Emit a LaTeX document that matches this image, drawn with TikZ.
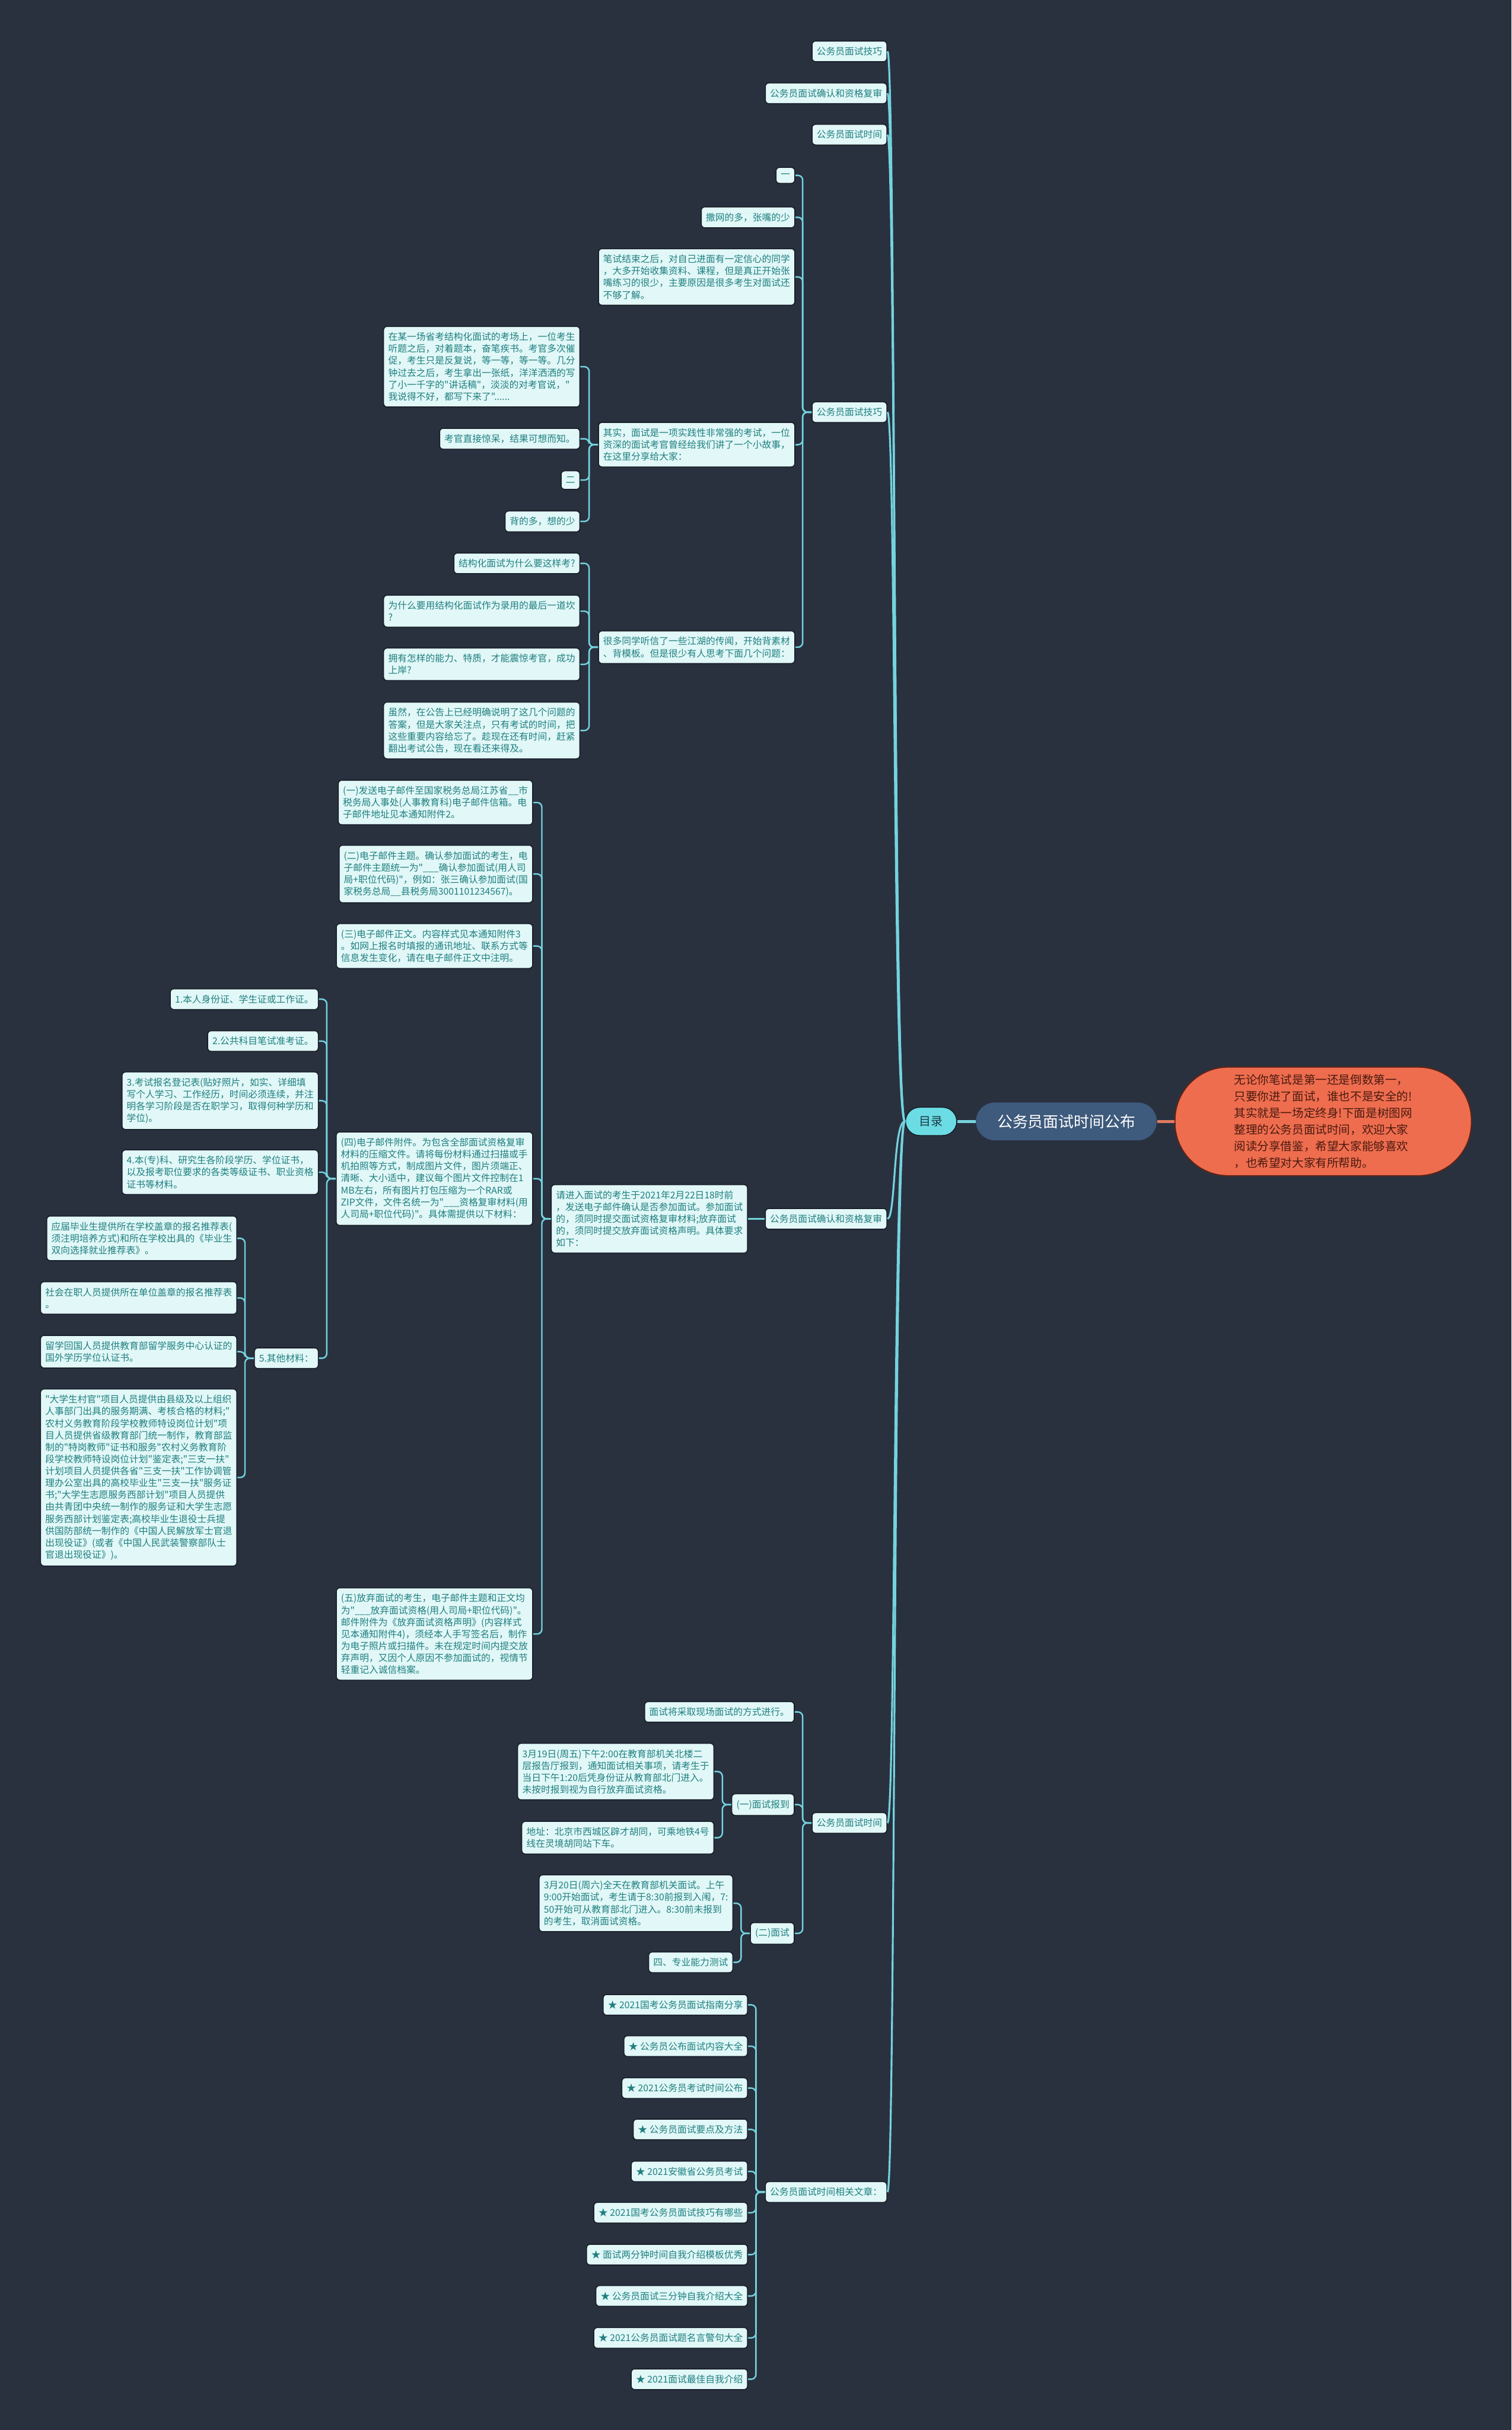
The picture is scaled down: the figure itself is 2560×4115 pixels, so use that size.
\documentclass[tikz,border=0pt]{standalone}
\usepackage{fontspec}
\newfontfamily\cjk{Noto Sans CJK SC}[Ligatures=TeXOff]
\usetikzlibrary{positioning}
\definecolor{bgnavy}{HTML}{29313F}
\definecolor{leaffill}{HTML}{E2F7F7}
\definecolor{leafedge}{HTML}{1A202A}
\definecolor{leaftext}{HTML}{1E7F80}
\definecolor{linkcyan}{HTML}{74D3DE}
\definecolor{rootblue}{HTML}{3E5A7C}
\definecolor{tocfill}{HTML}{6BDCE4}
\definecolor{toctext}{HTML}{1B3A44}
\definecolor{introfill}{HTML}{EE6D4E}
\definecolor{introedge}{HTML}{5E2418}
\definecolor{introtext}{HTML}{4A1A10}
\definecolor{introline}{HTML}{E07A5F}

\begin{document}
\begin{tikzpicture}[
    x=0.01cm,y=-0.01cm,
    leaf/.style={draw=leafedge,fill=leaffill,text=leaftext,rounded corners=0.06cm,
      line width=0.5pt,anchor=east,align=left,inner xsep=0.08cm,inner ysep=2.9pt,
      font=\cjk\fontsize{4.5pt}{5.75pt}\selectfont},
    link/.style={draw=linkcyan,line width=0.7pt,rounded corners=0.08cm},
    trunk/.style={draw=linkcyan,line width=0.9pt},
    rootnode/.style={fill=rootblue,text=white,rounded corners=0.32cm,
      minimum width=3.06cm,minimum height=0.64cm,
      font=\cjk\fontsize{7.4pt}{9pt}\selectfont},
    tocnode/.style={fill=tocfill,text=toctext,draw=leafedge,line width=0.5pt,
      rounded corners=0.24cm,minimum width=0.87cm,minimum height=0.48cm,
      font=\cjk\fontsize{5.7pt}{7pt}\selectfont},
    intronode/.style={fill=introfill,draw=introedge,text=introtext,line width=0.6pt,
      rounded corners=0.9cm,minimum width=5.02cm,minimum height=1.84cm,align=left,
      font=\cjk\fontsize{5.6pt}{8pt}\selectfont}
]
\fill[bgnavy] (0,0) rectangle (2560,4115);
\useasboundingbox (0,0) rectangle (2560,4115);

\node[rootnode] (root) at (1806,1899) {公务员面试时间公布};
\node[tocnode] (toc) at (1577,1899) {目录};
\node[intronode] (intro) at (2241,1899)
  {无论你笔试是第一还是倒数第一，\\只要你进了面试，谁也不是安全的!\\其实就是一场定终身!下面是树图网\\整理的公务员面试时间，欢迎大家\\阅读分享借鉴，希望大家能够喜欢\\，也希望对大家有所帮助。};
\draw[trunk,line width=1.4pt] (toc.east) -- (root.west);
\draw[introline,line width=1.4pt] (root.east) -- (intro.west);

\node[leaf] (t1) at (1503,87) {公务员面试技巧};
\node[leaf] (t2) at (1503,158) {公务员面试确认和资格复审};
\node[leaf] (t3) at (1503,228) {公务员面试时间};
\node[leaf] (t4) at (1503,698) {公务员面试技巧};
\node[leaf] (t5) at (1503,2064) {公务员面试确认和资格复审};
\node[leaf] (t6) at (1503,3087) {公务员面试时间};
\node[leaf] (t7) at (1503,3712) {公务员面试时间相关文章：};

\draw[trunk] (toc.west) .. controls +(-20,0) and +(14,0) .. (t1.east);
\draw[trunk] (toc.west) .. controls +(-20,0) and +(14,0) .. (t2.east);
\draw[trunk] (toc.west) .. controls +(-20,0) and +(14,0) .. (t3.east);
\draw[trunk] (toc.west) .. controls +(-20,0) and +(14,0) .. (t4.east);
\draw[trunk] (toc.west) .. controls +(-20,0) and +(14,0) .. (t5.east);
\draw[trunk] (toc.west) .. controls +(-20,0) and +(14,0) .. (t6.east);
\draw[trunk] (toc.west) .. controls +(-20,0) and +(14,0) .. (t7.east);

\node[leaf] (a1) at (1347,297) {一};
\node[leaf] (a2) at (1347,368) {撒网的多，张嘴的少};
\node[leaf] (a3) at (1347,469)
  {笔试结束之后，对自己进面有一定信心的同学\\，大多开始收集资料、课程，但是真正开始张\\嘴练习的很少，主要原因是很多考生对面试还\\不够了解。};
\node[leaf] (a4) at (1347,753)
  {其实，面试是一项实践性非常强的考试，一位\\资深的面试考官曾经给我们讲了一个小故事，\\在这里分享给大家：};
\node[leaf] (a5) at (1347,1096)
  {很多同学听信了一些江湖的传闻，开始背素材\\、背模板。但是很少有人思考下面几个问题：};
\draw[link] (t4.west) -- ++(-15,0) |- (a1.east);
\draw[link] (t4.west) -- ++(-15,0) |- (a2.east);
\draw[link] (t4.west) -- ++(-15,0) |- (a3.east);
\draw[link] (t4.west) -- ++(-15,0) |- (a4.east);
\draw[link] (t4.west) -- ++(-15,0) |- (a5.east);

\node[leaf] (b1) at (983,621)
  {在某一场省考结构化面试的考场上，一位考生\\听题之后，对着题本，奋笔疾书。考官多次催\\促，考生只是反复说，等一等，等一等。几分\\钟过去之后，考生拿出一张纸，洋洋洒洒的写\\了小一千字的"讲话稿"，淡淡的对考官说，"\\我说得不好，都写下来了"......};
\node[leaf] (b2) at (983,743) {考官直接惊呆，结果可想而知。};
\node[leaf] (b3) at (983,813) {二};
\node[leaf] (b4) at (983,883) {背的多，想的少};
\draw[link] (a4.west) -- ++(-15,0) |- (b1.east);
\draw[link] (a4.west) -- ++(-15,0) |- (b2.east);
\draw[link] (a4.west) -- ++(-15,0) |- (b3.east);
\draw[link] (a4.west) -- ++(-15,0) |- (b4.east);

\node[leaf] (c1) at (983,954) {结构化面试为什么要这样考?};
\node[leaf] (c2) at (983,1035) {为什么要用结构化面试作为录用的最后一道坎\\?};
\node[leaf] (c3) at (983,1125) {拥有怎样的能力、特质，才能震惊考官，成功\\上岸?};
\node[leaf] (c4) at (983,1237)
  {虽然，在公告上已经明确说明了这几个问题的\\答案，但是大家关注点，只有考试的时间，把\\这些重要内容给忘了。趁现在还有时间，赶紧\\翻出考试公告，现在看还来得及。};
\draw[link] (a5.west) -- ++(-15,0) |- (c1.east);
\draw[link] (a5.west) -- ++(-15,0) |- (c2.east);
\draw[link] (a5.west) -- ++(-15,0) |- (c3.east);
\draw[link] (a5.west) -- ++(-15,0) |- (c4.east);

\node[leaf] (d0) at (1267,2064)
  {请进入面试的考生于2021年2月22日18时前\\，发送电子邮件确认是否参加面试。参加面试\\的，须同时提交面试资格复审材料;放弃面试\\的，须同时提交放弃面试资格声明。具体要求\\如下：};
\draw[link] (t5.west) -- (d0.east);

\node[leaf] (e1) at (903,1359)
  {(一)发送电子邮件至国家税务总局江苏省\_\_市\\税务局人事处(人事教育科)电子邮件信箱。电\\子邮件地址见本通知附件2。};
\node[leaf] (e2) at (903,1480)
  {(二)电子邮件主题。确认参加面试的考生，电\\子邮件主题统一为"\_\_\_确认参加面试(用人司\\局+职位代码)"，例如：张三确认参加面试(国\\家税务总局\_\_县税务局3001101234567)。};
\node[leaf] (e3) at (903,1602)
  {(三)电子邮件正文。内容样式见本通知附件3\\。如网上报名时填报的通讯地址、联系方式等\\信息发生变化，请在电子邮件正文中注明。};
\node[leaf] (e4) at (903,1996)
  {(四)电子邮件附件。为包含全部面试资格复审\\材料的压缩文件。请将每份材料通过扫描或手\\机拍照等方式，制成图片文件，图片须端正、\\清晰、大小适中，建议每个图片文件控制在1\\MB左右，所有图片打包压缩为一个RAR或\\ZIP文件，文件名统一为"\_\_\_资格复审材料(用\\人司局+职位代码)"。具体需提供以下材料：};
\node[leaf] (e5) at (903,2767)
  {(五)放弃面试的考生，电子邮件主题和正文均\\为"\_\_\_放弃面试资格(用人司局+职位代码)"。\\邮件附件为《放弃面试资格声明》(内容样式\\见本通知附件4)，须经本人手写签名后，制作\\为电子照片或扫描件。未在规定时间内提交放\\弃声明，又因个人原因不参加面试的，视情节\\轻重记入诚信档案。};
\draw[link] (d0.west) -- ++(-15,0) |- (e1.east);
\draw[link] (d0.west) -- ++(-15,0) |- (e2.east);
\draw[link] (d0.west) -- ++(-15,0) |- (e3.east);
\draw[link] (d0.west) -- ++(-15,0) |- (e4.east);
\draw[link] (d0.west) -- ++(-15,0) |- (e5.east);

\node[leaf] (f1) at (540,1692) {1.本人身份证、学生证或工作证。};
\node[leaf] (f2) at (540,1763) {2.公共科目笔试准考证。};
\node[leaf] (f3) at (540,1864)
  {3.考试报名登记表(贴好照片，如实、详细填\\写个人学习、工作经历，时间必须连续，并注\\明各学习阶段是否在职学习，取得何种学历和\\学位)。};
\node[leaf] (f4) at (540,1985)
  {4.本(专)科、研究生各阶段学历、学位证书，\\以及报考职位要求的各类等级证书、职业资格\\证书等材料。};
\node[leaf] (f5) at (540,2300) {5.其他材料：};
\draw[link] (e4.west) -- ++(-15,0) |- (f1.east);
\draw[link] (e4.west) -- ++(-15,0) |- (f2.east);
\draw[link] (e4.west) -- ++(-15,0) |- (f3.east);
\draw[link] (e4.west) -- ++(-15,0) |- (f4.east);
\draw[link] (e4.west) -- ++(-15,0) |- (f5.east);

\node[leaf] (g1) at (402,2097)
  {应届毕业生提供所在学校盖章的报名推荐表(\\须注明培养方式)和所在学校出具的《毕业生\\双向选择就业推荐表》。};
\node[leaf] (g2) at (402,2198) {社会在职人员提供所在单位盖章的报名推荐表\\。};
\node[leaf] (g3) at (402,2289) {留学回国人员提供教育部留学服务中心认证的\\国外学历学位认证书。};
\node[leaf] (g4) at (402,2502)
  {"大学生村官"项目人员提供由县级及以上组织\\人事部门出具的服务期满、考核合格的材料;"\\农村义务教育阶段学校教师特设岗位计划"项\\目人员提供省级教育部门统一制作，教育部监\\制的"特岗教师"证书和服务"农村义务教育阶\\段学校教师特设岗位计划"鉴定表;"三支一扶"\\计划项目人员提供各省"三支一扶"工作协调管\\理办公室出具的高校毕业生"三支一扶"服务证\\书;"大学生志愿服务西部计划"项目人员提供\\由共青团中央统一制作的服务证和大学生志愿\\服务西部计划鉴定表;高校毕业生退役士兵提\\供国防部统一制作的《中国人民解放军士官退\\出现役证》(或者《中国人民武装警察部队士\\官退出现役证》)。};
\draw[link] (f5.west) -- ++(-15,0) |- (g1.east);
\draw[link] (f5.west) -- ++(-15,0) |- (g2.east);
\draw[link] (f5.west) -- ++(-15,0) |- (g3.east);
\draw[link] (f5.west) -- ++(-15,0) |- (g4.east);

\node[leaf] (h1) at (1346,2899) {面试将采取现场面试的方式进行。};
\node[leaf] (h2) at (1346,3056) {(一)面试报到};
\node[leaf] (h3) at (1346,3274) {(二)面试};
\draw[link] (t6.west) -- ++(-15,0) |- (h1.east);
\draw[link] (t6.west) -- ++(-15,0) |- (h2.east);
\draw[link] (t6.west) -- ++(-15,0) |- (h3.east);

\node[leaf] (i1) at (1210,3000)
  {3月19日(周五)下午2:00在教育部机关北楼二\\层报告厅报到，通知面试相关事项，请考生于\\当日下午1:20后凭身份证从教育部北门进入。\\未按时报到视为自行放弃面试资格。};
\node[leaf] (i2) at (1210,3112) {地址：北京市西城区辟才胡同，可乘地铁4号\\线在灵境胡同站下车。};
\draw[link] (h2.west) -- ++(-15,0) |- (i1.east);
\draw[link] (h2.west) -- ++(-15,0) |- (i2.east);

\node[leaf] (j1) at (1242,3223)
  {3月20日(周六)全天在教育部机关面试。上午\\9:00开始面试，考生请于8:30前报到入闱，7:\\50开始可从教育部北门进入。8:30前未报到\\的考生，取消面试资格。};
\node[leaf] (j2) at (1242,3323) {四、专业能力测试};
\draw[link] (h3.west) -- ++(-15,0) |- (j1.east);
\draw[link] (h3.west) -- ++(-15,0) |- (j2.east);

\node[leaf] (k1) at (1267,3395) {★ 2021国考公务员面试指南分享};
\node[leaf] (k2) at (1267,3465) {★ 公务员公布面试内容大全};
\node[leaf] (k3) at (1267,3536) {★ 2021公务员考试时间公布};
\node[leaf] (k4) at (1267,3606) {★ 公务员面试要点及方法};
\node[leaf] (k5) at (1267,3677) {★ 2021安徽省公务员考试};
\node[leaf] (k6) at (1267,3747) {★ 2021国考公务员面试技巧有哪些};
\node[leaf] (k7) at (1267,3818) {★ 面试两分钟时间自我介绍模板优秀};
\node[leaf] (k8) at (1267,3888) {★ 公务员面试三分钟自我介绍大全};
\node[leaf] (k9) at (1267,3959) {★ 2021公务员面试题名言警句大全};
\node[leaf] (k10) at (1267,4029) {★ 2021面试最佳自我介绍};
\draw[link] (t7.west) -- ++(-15,0) |- (k1.east);
\draw[link] (t7.west) -- ++(-15,0) |- (k2.east);
\draw[link] (t7.west) -- ++(-15,0) |- (k3.east);
\draw[link] (t7.west) -- ++(-15,0) |- (k4.east);
\draw[link] (t7.west) -- ++(-15,0) |- (k5.east);
\draw[link] (t7.west) -- ++(-15,0) |- (k6.east);
\draw[link] (t7.west) -- ++(-15,0) |- (k7.east);
\draw[link] (t7.west) -- ++(-15,0) |- (k8.east);
\draw[link] (t7.west) -- ++(-15,0) |- (k9.east);
\draw[link] (t7.west) -- ++(-15,0) |- (k10.east);
\end{tikzpicture}
\end{document}
